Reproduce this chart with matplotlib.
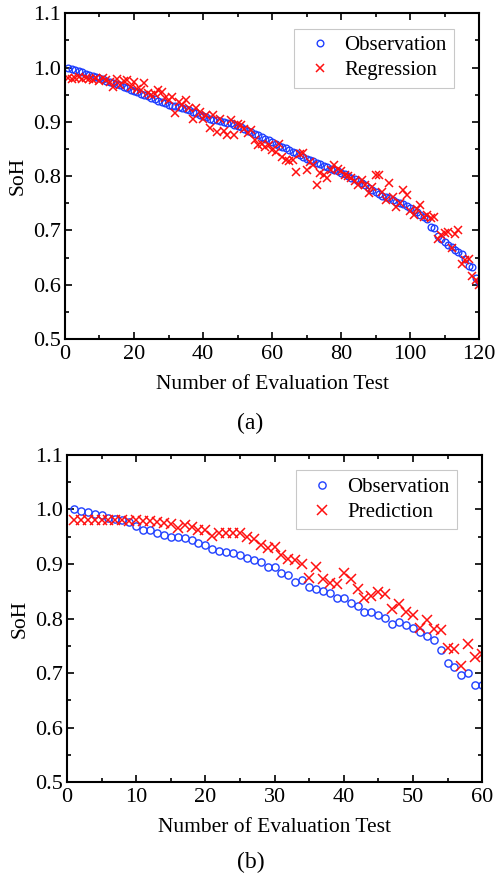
import numpy as np
import matplotlib
matplotlib.use("Agg")
import matplotlib.pyplot as plt
from matplotlib.ticker import MultipleLocator

plt.rcParams['font.family'] = ['Liberation Serif', 'DejaVu Serif']
plt.rcParams['mathtext.fontset'] = 'stix'

# (a) regression over the full test sequence
obs_a = [1.000, 0.998, 0.995, 0.993, 0.991, 0.989, 0.987, 0.985, 0.983, 0.981,
         0.979, 0.976, 0.973, 0.971, 0.969, 0.967, 0.965, 0.962, 0.959, 0.957,
         0.955, 0.952, 0.949, 0.947, 0.944, 0.942, 0.939, 0.937, 0.934, 0.931,
         0.930, 0.929, 0.928, 0.926, 0.924, 0.921, 0.918, 0.916, 0.913, 0.910,
         0.908, 0.906, 0.904, 0.903, 0.901, 0.900, 0.898, 0.897, 0.895, 0.893,
         0.890, 0.887, 0.884, 0.881, 0.877, 0.875, 0.872, 0.869, 0.866, 0.863,
         0.859, 0.856, 0.853, 0.851, 0.848, 0.845, 0.842, 0.839, 0.836, 0.832,
         0.829, 0.827, 0.824, 0.822, 0.819, 0.816, 0.814, 0.811, 0.809, 0.806,
         0.803, 0.800, 0.797, 0.794, 0.791, 0.788, 0.783, 0.779, 0.775, 0.770,
         0.767, 0.764, 0.761, 0.759, 0.756, 0.753, 0.751, 0.748, 0.745, 0.742,
         0.738, 0.734, 0.728, 0.724, 0.721, 0.706, 0.704, 0.690, 0.685, 0.679,
         0.674, 0.669, 0.664, 0.660, 0.657, 0.648, 0.634, 0.633, 0.612, 0.605]
reg_a = [0.981, 0.979, 0.980, 0.982, 0.978, 0.980, 0.979, 0.977, 0.981, 0.976,
         0.980, 0.977, 0.973, 0.964, 0.979, 0.967, 0.975, 0.977, 0.964, 0.974,
         0.961, 0.958, 0.971, 0.953, 0.949, 0.952, 0.958, 0.955, 0.944, 0.940,
         0.946, 0.916, 0.937, 0.931, 0.940, 0.925, 0.906, 0.925, 0.919, 0.906,
         0.912, 0.889, 0.912, 0.882, 0.906, 0.884, 0.875, 0.903, 0.875, 0.896,
         0.894, 0.887, 0.879, 0.885, 0.866, 0.857, 0.860, 0.854, 0.858, 0.848,
         0.845, 0.860, 0.836, 0.829, 0.828, 0.829, 0.808, 0.840, 0.842, 0.811,
         0.826, 0.820, 0.783, 0.806, 0.802, 0.796, 0.812, 0.820, 0.814, 0.810,
         0.802, 0.800, 0.796, 0.791, 0.783, 0.793, 0.783, 0.768, 0.780, 0.802,
         0.802, 0.770, 0.756, 0.787, 0.762, 0.744, 0.751, 0.774, 0.765, 0.735,
         0.728, 0.740, 0.747, 0.725, 0.728, 0.722, 0.725, 0.685, 0.691, 0.695,
         0.697, 0.667, 0.694, 0.700, 0.639, 0.646, 0.648, 0.616, 0.609, 0.599]

# (b) prediction on the held-out sequence
obs_b = [1.000, 0.998, 0.995, 0.992, 0.989, 0.985, 0.983, 0.980, 0.977, 0.969,
         0.963, 0.962, 0.956, 0.954, 0.950, 0.949, 0.948, 0.944, 0.939, 0.935,
         0.927, 0.923, 0.922, 0.920, 0.917, 0.911, 0.908, 0.903, 0.894, 0.895,
         0.883, 0.880, 0.868, 0.870, 0.858, 0.855, 0.850, 0.847, 0.837, 0.838,
         0.829, 0.823, 0.812, 0.812, 0.807, 0.802, 0.791, 0.794, 0.789, 0.783,
         0.775, 0.768, 0.760, 0.743, 0.719, 0.711, 0.696, 0.700, 0.678, 0.678]
pred_b = [0.980, 0.980, 0.980, 0.980, 0.980, 0.980, 0.980, 0.980, 0.979, 0.980,
          0.979, 0.978, 0.977, 0.976, 0.974, 0.966, 0.971, 0.968, 0.963, 0.962,
          0.951, 0.957, 0.957, 0.957, 0.956, 0.950, 0.945, 0.934, 0.930, 0.932,
          0.917, 0.910, 0.907, 0.900, 0.875, 0.895, 0.872, 0.865, 0.864, 0.884,
          0.873, 0.855, 0.837, 0.841, 0.848, 0.846, 0.817, 0.826, 0.812, 0.807,
          0.783, 0.798, 0.781, 0.780, 0.747, 0.744, 0.714, 0.754, 0.730, 0.736]

n_a = np.arange(1, len(obs_a) + 1)
n_b = np.arange(1, len(obs_b) + 1)

fig = plt.figure(figsize=(4.96, 8.85), dpi=100)
ax1 = fig.add_axes([0.131, 0.617, 0.835, 0.368])
ax2 = fig.add_axes([0.135, 0.116, 0.837, 0.370])

def style(ax, xmax, xmajor, xminor):
    ax.set_xlim(0, xmax)
    ax.set_ylim(0.5, 1.1)
    ax.xaxis.set_major_locator(MultipleLocator(xmajor))
    ax.xaxis.set_minor_locator(MultipleLocator(xminor))
    ax.yaxis.set_major_locator(MultipleLocator(0.1))
    ax.yaxis.set_minor_locator(MultipleLocator(0.05))
    ax.yaxis.set_major_formatter(matplotlib.ticker.FormatStrFormatter('%.1f'))
    ax.tick_params(which='both', direction='in', top=True, right=True,
                   labelsize=16, width=1.2)
    ax.tick_params(axis='y', pad=3)
    ax.tick_params(axis='x', pad=4)
    ax.tick_params(which='major', length=5)
    ax.tick_params(which='minor', length=3)
    for s in ax.spines.values():
        s.set_linewidth(1.5)
    ax.set_xlabel('Number of Evaluation Test', fontsize=15.5, labelpad=8)
    ax.set_ylabel('SoH', fontsize=15.5, labelpad=4)

ax1.plot(n_a, obs_a, 'o', ms=4.8, mfc='none', mec='#2040ff', mew=1.0,
         label='Observation')
ax1.plot(n_a, reg_a, 'x', ms=6, color='#ff1010', mew=1.1, label='Regression')
style(ax1, 120, 20, 10)

ax2.plot(n_b, obs_b, 'o', ms=5.2, mfc='none', mec='#2040ff', mew=1.0,
         label='Observation')
ax2.plot(n_b, pred_b, 'x', ms=7, color='#ff1010', mew=1.1, label='Prediction')
style(ax2, 60, 10, 5)

for ax in (ax1, ax2):
    leg = ax.legend(loc='upper right', fontsize=15, frameon=True, fancybox=False,
                    handletextpad=0.3, borderpad=0.35, labelspacing=0.25,
                    handlelength=1.8, bbox_to_anchor=(0.965, 0.985))
    leg.get_frame().set_edgecolor('#bbbbbb')
    leg.get_frame().set_linewidth(0.8)

fig.text(0.505, 0.522, '(a)', ha='center', va='center', fontsize=17)
fig.text(0.505, 0.026, '(b)', ha='center', va='center', fontsize=17)

fig.savefig('out.png', dpi=100)
